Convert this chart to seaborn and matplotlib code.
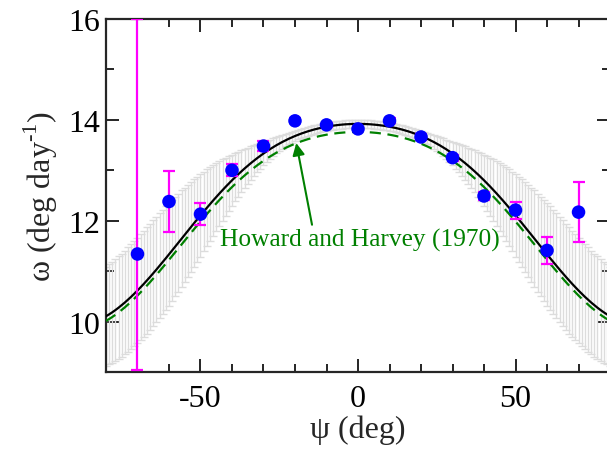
import numpy as np
import pandas as pd
import matplotlib
matplotlib.use("Agg")
import matplotlib.pyplot as plt
import seaborn as sns
from matplotlib.ticker import MultipleLocator

# measured rotation rate per latitude bin
lat = [-70, -60, -50, -40, -30, -20, -10, 0, 10, 20, 30, 40, 50, 60, 70]
omega = [11.34, 12.38, 12.13, 13.00, 13.48, 13.98, 13.90, 13.82,
         13.98, 13.66, 13.25, 12.49, 12.21, 11.41, 12.17]
err_lo = [2.30, 0.60, 0.22, 0.12, 0.10, 0.05, 0.04, 0.04,
          0.05, 0.05, 0.06, 0.08, 0.17, 0.26, 0.60]
err_hi = [4.65, 0.60, 0.22, 0.12, 0.10, 0.05, 0.04, 0.04,
          0.05, 0.05, 0.06, 0.08, 0.17, 0.26, 0.60]

# rotation law omega = A + B sin^2 + C sin^4
fit_coef = [13.92, -1.80, -2.20]
hh_coef = [13.76, -1.74, -2.19]          # Howard and Harvey (1970)
# fit uncertainty: sigma^2 = sA^2 + (b s^2 + c s^3)^2, s = sin^2
band_coef = [0.08, 4.38, -3.44]

lat_grid = np.arange(-80, 81, 1)


def rot_law(psi, coef):
    s = np.sin(np.radians(psi)) ** 2
    return coef[0] + coef[1] * s + coef[2] * s ** 2


def band_width(psi, coef):
    s = np.sin(np.radians(psi)) ** 2
    return np.sqrt(coef[0] ** 2 + (coef[1] * s ** 2 + coef[2] * s ** 3) ** 2)


sns.set_style("ticks")
plt.rcParams['font.family'] = ['Liberation Serif', 'DejaVu Serif']
plt.rcParams['mathtext.fontset'] = 'custom'
plt.rcParams['mathtext.rm'] = 'Liberation Serif'
plt.rcParams['axes.unicode_minus'] = False

df_curve = pd.DataFrame({
    'psi': lat_grid,
    'fit': rot_law(lat_grid, fit_coef),
    'hh': rot_law(lat_grid, hh_coef),
    'sig': band_width(lat_grid, band_coef),
})
df_obs = pd.DataFrame({'psi': lat, 'omega': omega})

fig = plt.figure(figsize=(6.07, 4.52), dpi=100)
ax = fig.add_axes([0.1746, 0.1748, 0.8304, 0.781])

# uncertainty band drawn as dense grey error bars
ax.errorbar(df_curve['psi'], df_curve['fit'], yerr=df_curve['sig'],
            fmt='none', ecolor='#dcdcdc', elinewidth=1.0, capsize=2.8,
            capthick=1.0, zorder=2)

sns.lineplot(data=df_curve, x='psi', y='fit', ax=ax, color='black',
             linewidth=1.6, zorder=3)
sns.lineplot(data=df_curve, x='psi', y='hh', ax=ax, color='#008000',
             linewidth=1.6, linestyle=(0, (5, 3)), zorder=3)

ax.errorbar(lat, omega, yerr=[err_lo, err_hi], fmt='none',
            ecolor='#ff00ff', elinewidth=1.6, capsize=4.5, capthick=1.6,
            zorder=4)
sns.scatterplot(data=df_obs, x='psi', y='omega', ax=ax, color='#0000ff',
                s=95, edgecolor='none', zorder=5)

ax.annotate('', xy=(-19.6, 13.54), xytext=(-14.6, 11.92),
            arrowprops=dict(arrowstyle='-|>', color='#008000', lw=1.5,
                            mutation_scale=18, shrinkA=0, shrinkB=0))
ax.text(0.5, 11.62, 'Howard and Harvey (1970)', color='#008000',
        fontsize=18.3, ha='center', va='center')

ax.set_xlim(-80, 80)
ax.set_ylim(9, 16)
ax.xaxis.set_major_locator(MultipleLocator(50))
ax.xaxis.set_minor_locator(MultipleLocator(10))
ax.yaxis.set_major_locator(MultipleLocator(2))
ax.yaxis.set_minor_locator(MultipleLocator(1))

ax.tick_params(which='both', direction='in', top=True, right=True,
               width=1.2, labelsize=23, colors='black')
ax.tick_params(which='major', length=9.5)
ax.tick_params(which='minor', length=6)
ax.tick_params(axis='x', pad=9)
ax.tick_params(axis='y', pad=4)
for sp in ax.spines.values():
    sp.set_linewidth(1.6)
    sp.set_visible(True)

ax.set_xlabel('ψ (deg)', fontsize=23, labelpad=1)
ax.set_ylabel(r'ω (deg day$^{\text{-1}}$)', fontsize=23, labelpad=6)

fig.savefig('out.png', dpi=100)
plt.close(fig)
